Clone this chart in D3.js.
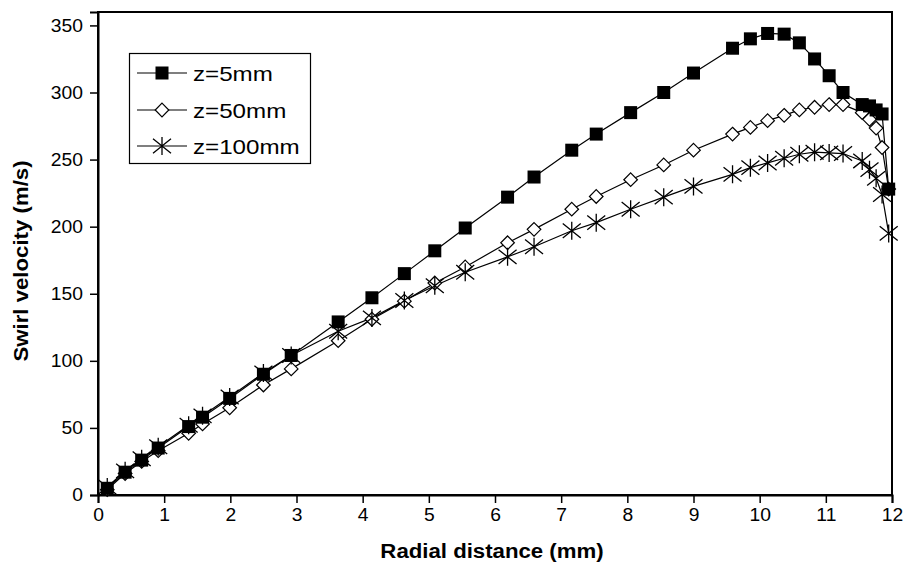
<!DOCTYPE html>
<html>
<head>
<meta charset="utf-8">
<script src="https://cdn.jsdelivr.net/npm/d3@7"></script>
<style>
  html, body { margin: 0; padding: 0; background: #fff; }
  svg { display: block; font-family: "Liberation Sans", Arial, Helvetica, sans-serif; }
</style>
</head>
<body>
<svg id="chart" width="907" height="565"></svg>
<script>
// Radial measurement stations (mm), shared by all three axial positions
const radius = [0.14, 0.41, 0.66, 0.91, 1.37, 1.58, 1.99, 2.5, 2.92, 3.63, 4.14, 4.63, 5.09, 5.55,
  6.19, 6.59, 7.16, 7.53, 8.05, 8.55, 9.0, 9.59, 9.86, 10.12, 10.37, 10.6, 10.83, 11.05, 11.26,
  11.55, 11.66, 11.76, 11.85, 11.95];

// Swirl velocity (m/s) at each axial position
const swirlZ5 = [5, 17, 26, 35, 51, 58, 72, 90, 104, 129, 147, 165, 182, 199,
  222, 237, 257, 269, 285, 300, 314.5, 333, 340, 344, 343.5, 337, 325, 312.5, 300,
  291, 290, 287, 284, 228];
const swirlZ50 = [4, 16, 25, 33, 46, 53, 65, 82, 94, 115, 131, 144.5, 158, 170,
  188, 198, 213, 222.5, 235, 246, 257, 269, 274, 279, 283, 287, 289, 291, 291,
  285, 280, 273.5, 259, 228];
const swirlZ100 = [6, 18, 27, 36, 52, 59, 73, 91, 104, 122, 132, 145, 156, 166,
  177.5, 185, 197, 203, 213, 222, 230, 239, 244, 247.5, 251, 254, 255.5, 255, 254.5,
  249, 242.5, 236, 224, 195];

const seriesNames = ["z=5mm", "z=50mm", "z=100mm"];
const seriesMarkers = ["square", "diamond", "star"];

const xTicks = [0, 1, 2, 3, 4, 5, 6, 7, 8, 9, 10, 11, 12];
const yTicks = [0, 50, 100, 150, 200, 250, 300, 350];
const xTitle = "Radial distance (mm)";
const yTitle = "Swirl velocity (m/s)";

const svg = d3.select("#chart");
const plot = { left: 98, right: 892, top: 12, bottom: 495 };

const x = d3.scaleLinear().domain([0, 12]).range([plot.left, plot.right]);
const y = d3.scaleLinear().domain([0, 360]).range([plot.bottom, plot.top]);

// widen glyphs slightly, as the original lettering is broad
function stretch(sel, k) {
  sel.each(function () {
    const w = this.getComputedTextLength();
    d3.select(this).attr("textLength", w * k).attr("lengthAdjust", "spacingAndGlyphs");
  });
}

// Plot frame
svg.append("rect")
  .attr("x", plot.left).attr("y", plot.top)
  .attr("width", plot.right - plot.left).attr("height", plot.bottom - plot.top)
  .attr("fill", "none").attr("stroke", "#000").attr("stroke-width", 2);

// Axes
const xAxis = d3.axisBottom(x).tickValues(xTicks).tickSize(8).tickPadding(5).tickFormat(d3.format("d"));
const yAxis = d3.axisLeft(y).tickValues(yTicks).tickSize(8).tickPadding(7).tickFormat(d3.format("d"));

const gx = svg.append("g").attr("transform", `translate(0,${plot.bottom})`).call(xAxis);
const gy = svg.append("g").attr("transform", `translate(${plot.left},0)`).call(yAxis);

[gx, gy].forEach(g => {
  g.select(".domain").attr("stroke", "#000").attr("stroke-width", 2);
  g.selectAll(".tick line").attr("stroke", "#000").attr("stroke-width", 1.5);
  g.selectAll(".tick text").attr("fill", "#000").attr("font-size", 18)
    .attr("font-family", "'Liberation Sans', Arial, sans-serif");
});
gx.selectAll(".tick text").attr("dy", "0.71em");
stretch(gx.selectAll(".tick text"), 1.07);
stretch(gy.selectAll(".tick text"), 1.07);

// Axis titles
const xt = svg.append("text")
  .attr("x", (plot.left + plot.right) / 2 - 3).attr("y", 558)
  .attr("text-anchor", "middle").attr("font-weight", "bold").attr("font-size", 20)
  .text(xTitle);
stretch(xt, 1.11);

const yt = svg.append("text")
  .attr("transform", `translate(28,${261}) rotate(-90)`)
  .attr("text-anchor", "middle").attr("font-weight", "bold").attr("font-size", 20)
  .text(yTitle);
stretch(yt, 1.11);

// Marker glyphs
const sq = 6.5, dm = 6.8, st = 9;
function drawMarker(g, kind) {
  if (kind === "square") {
    g.append("rect").attr("x", -sq).attr("y", -sq).attr("width", 2 * sq).attr("height", 2 * sq)
      .attr("fill", "#000");
  } else if (kind === "diamond") {
    g.append("path").attr("d", `M0,${-dm}L${dm},0L0,${dm}L${-dm},0Z`)
      .attr("fill", "#fff").attr("stroke", "#000").attr("stroke-width", 1.2);
  } else {
    g.append("path")
      .attr("d", `M0,${-st}V${st}M${-st},${-st * 0.8}L${st},${st * 0.8}M${-st},${st * 0.8}L${st},${-st * 0.8}`)
      .attr("fill", "none").attr("stroke", "#000").attr("stroke-width", 1.3);
  }
}

const series = [
  { name: seriesNames[0], marker: seriesMarkers[0], values: swirlZ5 },
  { name: seriesNames[1], marker: seriesMarkers[1], values: swirlZ50 },
  { name: seriesNames[2], marker: seriesMarkers[2], values: swirlZ100 }
];

const line = d3.line().x(d => x(d[0])).y(d => y(d[1]));

// Lines first, then markers: diamonds, stars, squares on top
series.forEach(s => {
  svg.append("path")
    .datum(radius.map((r, i) => [r, s.values[i]]))
    .attr("d", line).attr("fill", "none").attr("stroke", "#000").attr("stroke-width", 1.2);
});
[1, 2, 0].forEach(k => {
  const s = series[k];
  const gm = svg.append("g");
  radius.forEach((r, i) => {
    const g = gm.append("g").attr("transform", `translate(${x(r)},${y(s.values[i])})`);
    drawMarker(g, s.marker);
  });
});

// Legend
const legend = svg.append("g");
legend.append("rect").attr("x", 129.5).attr("y", 53.5).attr("width", 181).attr("height", 110)
  .attr("fill", "#fff").attr("stroke", "#000").attr("stroke-width", 1.2);
const rowY = [73, 110, 146];
series.forEach((s, i) => {
  const row = legend.append("g").attr("transform", `translate(0,${rowY[i]})`);
  row.append("line").attr("x1", 137).attr("x2", 187).attr("y1", 0).attr("y2", 0)
    .attr("stroke", "#000").attr("stroke-width", 1.2);
  drawMarker(row.append("g").attr("transform", "translate(162,0)"), s.marker);
  const t = row.append("text").attr("x", 193).attr("y", 7.5).attr("font-size", 21).text(s.name);
  stretch(t, 1.15);
});
</script>
</body>
</html>
